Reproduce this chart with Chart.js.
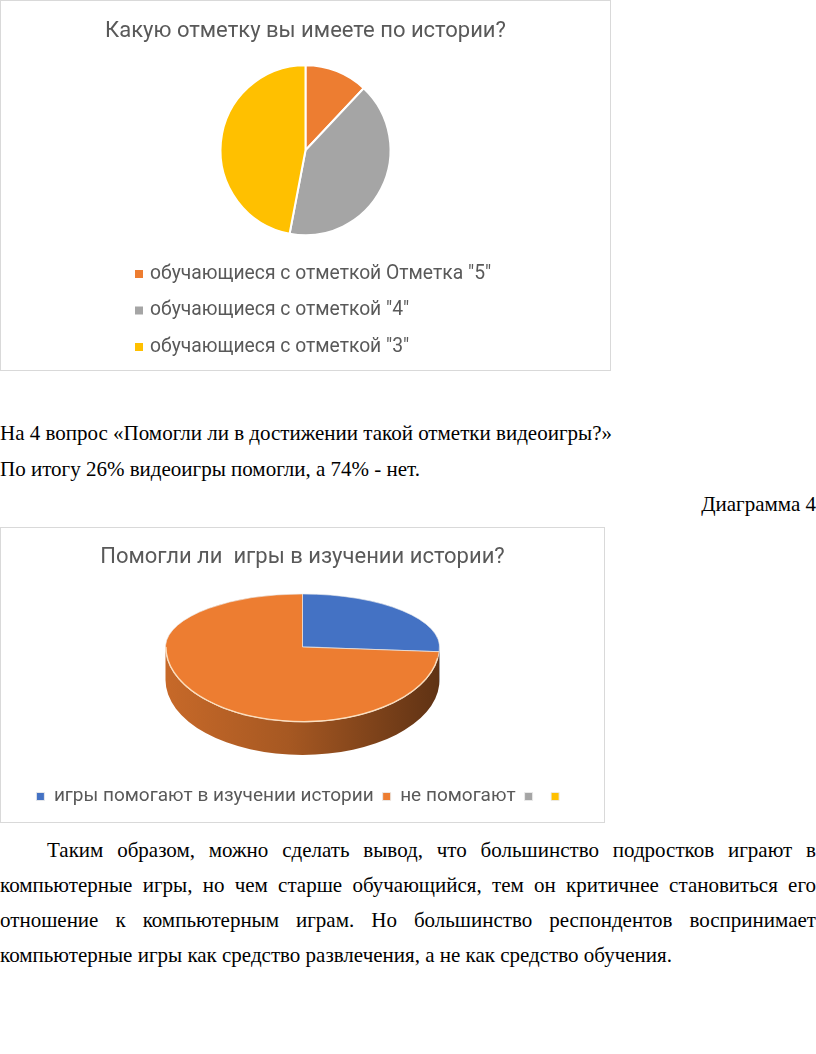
<!DOCTYPE html>
<html lang="ru">
<head>
<meta charset="utf-8">
<script src="https://cdn.jsdelivr.net/npm/chart.js@4.4.1/dist/chart.umd.min.js"></script>
<style>
  html, body { margin: 0; padding: 0; background: #fff; }
  body { width: 816px; height: 1054px; position: relative; overflow: hidden; }
  .box { position: absolute; left: 0; border: 1px solid #d9d9d9; box-sizing: border-box; background: #fff; }
  .box canvas { position: absolute; left: 0; top: 0; }
  .txt { position: absolute; left: 0; font-family: "Liberation Serif", "Times New Roman", serif; font-size: 21px; color: #000; white-space: nowrap; line-height: 1; }
  .para { position: absolute; left: 0; width: 816px; font-family: "Liberation Serif", "Times New Roman", serif; font-size: 21px; line-height: 35px; text-align: justify; text-indent: 47px; color: #000; }
</style>
</head>
<body>

<div class="box" style="top:0; width:611px; height:371px;">
  <canvas id="gradeChart" width="609" height="369"></canvas>
</div>

<div class="txt" style="top:423px;">На 4 вопрос «Помогли ли в достижении такой отметки видеоигры?»</div>
<div class="txt" style="top:459px;">По итогу 26% видеоигры помогли, а 74% - нет.</div>
<div class="txt" style="top:494px; left:auto; right:0;">Диаграмма 4</div>

<div class="box" style="top:527px; width:605px; height:296px;">
  <canvas id="helpChart" width="603" height="294"></canvas>
</div>

<div class="para" style="top:833px;">Таким образом, можно сделать вывод, что большинство подростков играют в компьютерные игры, но чем старше обучающийся, тем он критичнее становиться его отношение к компьютерным играм. Но большинство респондентов воспринимает компьютерные игры как средство развлечения, а не как средство обучения.</div>

<script>
// --- data ---
const gradeLabels = ['обучающиеся с отметкой Отметка "5"', 'обучающиеся с отметкой "4"', 'обучающиеся с отметкой "3"'];
const gradeShares = [12, 41, 47];
const gradeColors = ['#ED7D31', '#A5A5A5', '#FFC000'];

const helpLabels = ['игры помогают в изучении истории', 'не помогают', '', ''];
const helpShares = [26, 74, 0, 0];
const helpColors = ['#4472C4', '#ED7D31', '#A5A5A5', '#FFC000'];

const FONT = 'Roboto, "Open Sans", sans-serif';
const GREY = '#595959';

Chart.defaults.font.family = FONT;
Chart.defaults.animation = false;

// vertical legend drawn on the canvas (Excel style list under the pie)
const vLegend = {
  id: 'vLegend',
  afterDraw(chart, args, opts) {
    const ctx = chart.ctx;
    const colors = chart.data.datasets[0].backgroundColor;
    ctx.save();
    ctx.font = opts.size + 'px ' + FONT;
    ctx.textBaseline = 'middle';
    chart.data.labels.forEach((lab, i) => {
      const y = opts.top + i * opts.step;
      ctx.fillStyle = colors[i];
      ctx.fillRect(opts.left, y - 4, 8, 8);
      ctx.fillStyle = GREY;
      ctx.fillText(lab, opts.left + 15, y);
    });
    ctx.restore();
  }
};

function shade(hex, f) {
  const n = parseInt(hex.slice(1), 16);
  const r = Math.round(((n >> 16) & 255) * f);
  const g = Math.round(((n >> 8) & 255) * f);
  const b = Math.round((n & 255) * f);
  return 'rgb(' + r + ',' + g + ',' + b + ')';
}

// tilted pie: far half squashed more than the near half (rough perspective),
// plus a shaded side wall on the near half
const pie3d = {
  id: 'pie3d',
  geo(chart, opts) {
    const a0 = chart.getDatasetMeta(0).data[0];
    const r = a0.outerRadius;
    const ryT = r * opts.far, ryB = r * opts.near;
    return { cx: a0.x, cy: a0.y, r, ryT, ryB, ty: Math.round(chart.chartArea.top + ryT) };
  },
  squash(chart, g, ry, top) {
    const ctx = chart.ctx;
    ctx.save();
    ctx.beginPath();
    if (top) ctx.rect(0, 0, chart.width, g.ty);
    else ctx.rect(0, g.ty, chart.width, chart.height - g.ty);
    ctx.clip();
    ctx.translate(g.cx, g.ty);
    ctx.scale(1, ry / g.r);
    ctx.translate(-g.cx, -g.cy);
  },
  beforeDatasetsDraw(chart, args, opts) {
    const arcs = chart.getDatasetMeta(0).data;
    if (!arcs.length) return;
    const ctx = chart.ctx;
    const g = this.geo(chart, opts);

    arcs.forEach((arc) => {
      const a = Math.max(arc.startAngle, 0);
      const b = Math.min(arc.endAngle, Math.PI);
      if (b <= a) return;
      const col = arc.options.backgroundColor;
      const grad = ctx.createLinearGradient(g.cx - g.r, 0, g.cx + g.r, 0);
      grad.addColorStop(0, shade(col, 0.84));
      grad.addColorStop(0.45, shade(col, 0.7));
      grad.addColorStop(1, shade(col, 0.4));
      ctx.beginPath();
      ctx.ellipse(g.cx, g.ty, g.r, g.ryB, 0, a, b);
      ctx.ellipse(g.cx, g.ty + opts.depth, g.r, g.ryB, 0, b, a, true);
      ctx.closePath();
      ctx.fillStyle = grad;
      ctx.fill();
    });

    this.squash(chart, g, g.ryT, true);
  },
  afterDatasetsDraw(chart, args, opts) {
    const meta = chart.getDatasetMeta(0);
    if (!meta.data.length) return;
    const ctx = chart.ctx;
    ctx.restore();
    const g = this.geo(chart, opts);
    // near half of the top face
    this.squash(chart, g, g.ryB, false);
    meta.controller.draw();
    ctx.restore();

    ctx.save();
    ctx.beginPath();
    ctx.ellipse(g.cx, g.ty, g.r - 0.5, g.ryB - 0.5, 0, 0.15, Math.PI);
    ctx.strokeStyle = 'rgba(255, 228, 195, 0.9)';
    ctx.lineWidth = 1.2;
    ctx.stroke();
    ctx.restore();
  }
};

// --- chart 1: grades ---
new Chart(document.getElementById('gradeChart'), {
  type: 'pie',
  data: {
    labels: gradeLabels,
    datasets: [{
      data: gradeShares,
      backgroundColor: gradeColors,
      borderColor: '#ffffff',
      borderWidth: 2
    }]
  },
  options: {
    responsive: false,
    radius: 85,
    layout: { padding: { bottom: 124 } },
    plugins: {
      legend: { display: false },
      tooltip: { enabled: false },
      title: {
        display: true,
        text: 'Какую отметку вы имеете по истории?',
        color: GREY,
        font: { size: 22, weight: 'normal' },
        padding: { top: 17, bottom: 10 }
      },
      vLegend: { left: 134, top: 273, step: 36.5, size: 19.3 }
    }
  },
  plugins: [vLegend]
});

// --- chart 2: did games help ---
new Chart(document.getElementById('helpChart'), {
  type: 'pie',
  data: {
    labels: helpLabels,
    datasets: [{
      data: helpShares,
      backgroundColor: helpColors,
      borderColor: 'rgba(235, 235, 235, 0.9)',
      borderWidth: 1,
      clip: false
    }]
  },
  options: {
    responsive: false,
    radius: 137,
    layout: { padding: { bottom: 6 } },
    plugins: {
      legend: {
        position: 'bottom',
        labels: { color: GREY, font: { size: 19 }, boxWidth: 8, boxHeight: 8, padding: 9 }
      },
      tooltip: { enabled: false },
      title: {
        display: true,
        text: 'Помогли ли  игры в изучении истории?',
        color: GREY,
        font: { size: 22, weight: 'normal' },
        padding: { top: 16, bottom: 24 }
      },
      pie3d: { far: 0.387, near: 0.547, depth: 33 }
    }
  },
  plugins: [pie3d]
});
</script>
</body>
</html>
